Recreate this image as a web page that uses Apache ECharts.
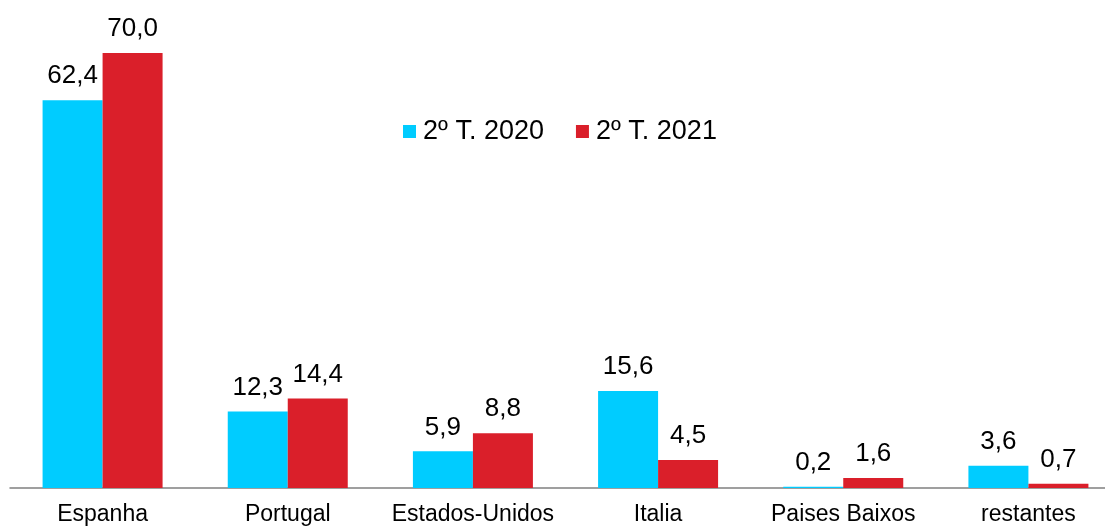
<!DOCTYPE html>
<html>
<head>
<meta charset="utf-8">
<script src="https://cdn.jsdelivr.net/npm/echarts@6/dist/echarts.min.js"></script>
<style>
  html, body { margin: 0; padding: 0; background: #fff; }
  #chart { width: 1105px; height: 527px; }
</style>
</head>
<body>
<div id="chart"></div>
<script>
const categories = ['Espanha', 'Portugal', 'Estados-Unidos', 'Italia', 'Paises Baixos', 'restantes'];
const seriesNames = ['2º T. 2020', '2º T. 2021'];
const values2020 = [62.4, 12.3, 5.9, 15.6, 0.2, 3.6];
const values2021 = [70.0, 14.4, 8.8, 4.5, 1.6, 0.7];

const fmt = p => p.value.toFixed(1).replace('.', ',');

const chart = echarts.init(document.getElementById('chart'));
const label = {
  show: true,
  position: 'top',
  distance: 11,
  fontFamily: 'Liberation Sans, Arial, sans-serif',
  fontSize: 26,
  color: '#000',
  formatter: fmt
};
chart.setOption({
  animation: false,
  textStyle: { fontFamily: 'Liberation Sans, Arial, sans-serif' },
  legend: {
    left: 398,
    top: 113,
    itemWidth: 13,
    itemHeight: 13,
    itemGap: 32,
    icon: 'rect',
    textStyle: { fontSize: 27, color: '#000', padding: [0, 0, 0, 2] },
    data: seriesNames
  },
  // the category bands run a little past the right edge in the original
  grid: { left: 10, width: 1111, top: 22, bottom: 39, outerBoundsMode: 'none' },
  xAxis: {
    type: 'category',
    data: categories,
    axisTick: { show: false },
    axisLine: { lineStyle: { color: '#808080', width: 1.5 } },
    axisLabel: { fontSize: 23, color: '#000', margin: 15, interval: 0 }
  },
  yAxis: {
    type: 'value',
    min: 0,
    max: 75,
    show: false,
    splitLine: { show: false }
  },
  series: [
    {
      name: seriesNames[0],
      type: 'bar',
      data: values2020,
      barWidth: 60,
      barGap: '0%',
      itemStyle: { color: '#00CCFF' },
      label: label
    },
    {
      name: seriesNames[1],
      type: 'bar',
      data: values2021,
      barWidth: 60,
      barGap: '0%',
      itemStyle: { color: '#DA1F2A' },
      label: label
    }
  ]
});
</script>
</body>
</html>
